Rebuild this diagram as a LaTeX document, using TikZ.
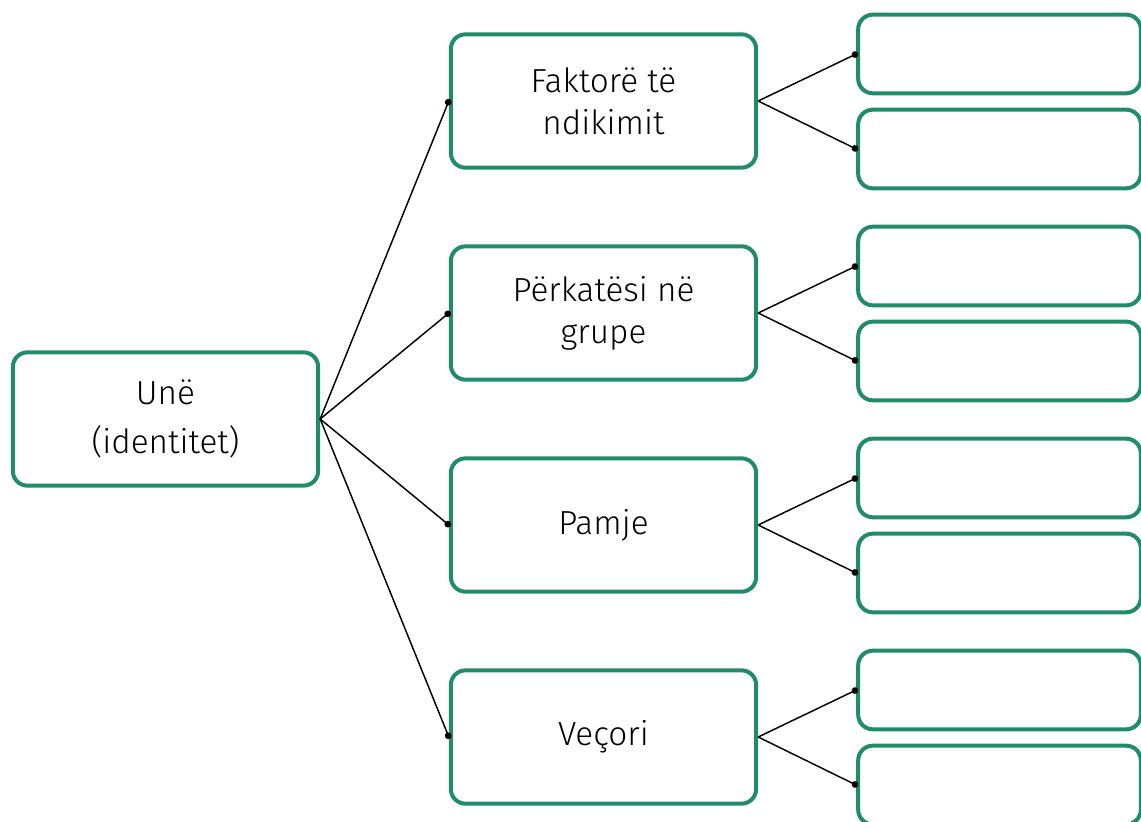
\documentclass[tikz,border=0pt]{standalone}
\usepackage{fontspec}
\setmainfont{Fira Sans Light}
\usetikzlibrary{arrows.meta, positioning}
\definecolor{boxgreen}{RGB}{33,140,106}

\begin{document}
\begin{tikzpicture}[x=0.75pt, y=-0.75pt, line width=1.1pt,
	box/.style={draw=boxgreen, line width=3pt, rounded corners=11pt, align=center,
		minimum width=229pt, minimum height=100pt, inner sep=0pt,
		font=\fontsize{25}{31.5}\selectfont},
	leaf/.style={box, minimum width=212pt, minimum height=59pt},
	link/.style={-{Circle[length=5pt]}, shorten >=-1.5pt}]
		\useasboundingbox (0,0) rectangle (1141,821);
		\node[box, font=\fontsize{25}{37}\selectfont]	(une)	at (165.5,419)	{Unë\\(identitet)};
		\node[box]	(fak)	at (603.5,101)	{Faktorë të\\ndikimit};
		\node[box]	(per)	at (603.5,313)	{Përkatësi në\\grupe};
		\node[box]	(pam)	at (603.5,525)	{Pamje};
		\node[box]	(vec)	at (603.5,737)	{Veçori};
		\node[leaf]	(fak1)	at (999.5,54)	{};
		\node[leaf]	(fak2)	at (999.5,149)	{};
		\node[leaf]	(per1)	at (999.5,266)	{};
		\node[leaf]	(per2)	at (999.5,361)	{};
		\node[leaf]	(pam1)	at (999.5,478)	{};
		\node[leaf]	(pam2)	at (999.5,573)	{};
		\node[leaf]	(vec1)	at (999.5,690)	{};
		\node[leaf]	(vec2)	at (999.5,785)	{};
		\path[link]
		(une.east)	edge	(fak.west)
		(une.east)	edge	(per.west)
		(une.east)	edge	(pam.west)
		(une.east)	edge	(vec.west)
		(fak.east)	edge	(fak1.west)
		(fak.east)	edge	(fak2.west)
		(per.east)	edge	(per1.west)
		(per.east)	edge	(per2.west)
		(pam.east)	edge	(pam1.west)
		(pam.east)	edge	(pam2.west)
		(vec.east)	edge	(vec1.west)
		(vec.east)	edge	(vec2.west);
\end{tikzpicture}
\end{document}
